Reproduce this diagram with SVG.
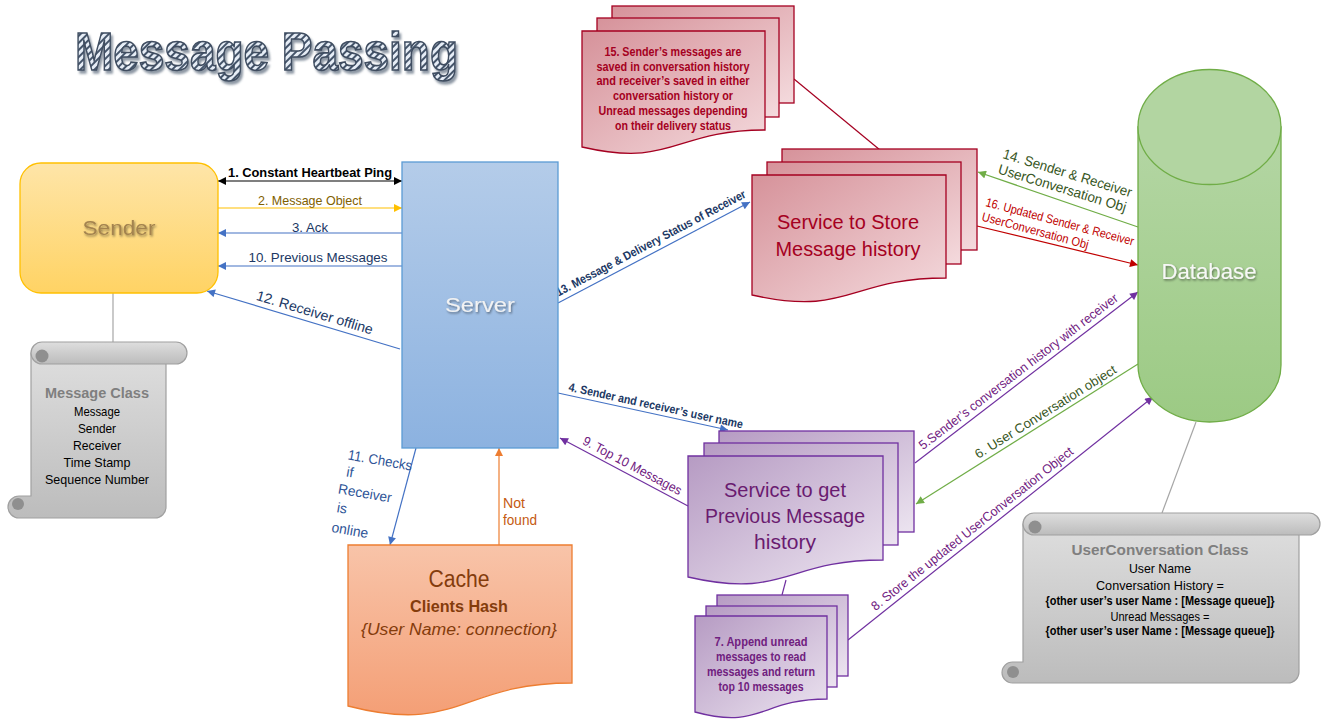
<svg xmlns="http://www.w3.org/2000/svg" width="1327" height="727" viewBox="0 0 1327 727">
<defs>
<style>
text{font-family:'Liberation Sans',Arial,sans-serif}
.ln{fill:none;stroke-width:1.2}
.blue{stroke:#4472c4}.blk{stroke:#000}.yel{stroke:#ffc000}.pur{stroke:#7030a0}.grn{stroke:#70ad47}.red{stroke:#c00000}.org{stroke:#ed7d31}.gry{stroke:#a6a6a6}.dred{stroke:#a50021}
.rdoc{fill:url(#gRed);stroke:#a50021;stroke-width:1.3}
.pdoc{fill:url(#gPur);stroke:#7030a0;stroke-width:1.3}
.scroll{fill:url(#gGry);stroke:#a0a0a0;stroke-width:1.2}
.curl{fill:#8f8f8f}
.tb{fill:#203864;font-size:13px}
.tbb{fill:#203864;font-size:12px;font-weight:bold}
.tp{fill:#70207f;font-size:13px}
.tg{fill:#375623;font-size:13px}
.tr{fill:#c00000;font-size:12.5px}
.cls{fill:#000;font-size:13px;text-anchor:middle}
</style>
<linearGradient id="gRed" x1="0" y1="0" x2="1" y2="1"><stop offset="0" stop-color="#d6929a"/><stop offset="1" stop-color="#f4dadd"/></linearGradient>
<linearGradient id="gPur" x1="0" y1="0" x2="1" y2="1"><stop offset="0" stop-color="#b69bc3"/><stop offset="1" stop-color="#ece4f0"/></linearGradient>
<linearGradient id="gGry" x1="0" y1="0" x2="0" y2="1"><stop offset="0" stop-color="#dedede"/><stop offset="1" stop-color="#bcbcbc"/></linearGradient>
<linearGradient id="gSnd" x1="0" y1="0" x2="0" y2="1"><stop offset="0" stop-color="#fee5a8"/><stop offset="1" stop-color="#ffd364"/></linearGradient>
<linearGradient id="gSrv" x1="0" y1="0" x2="0" y2="1"><stop offset="0" stop-color="#b4cce9"/><stop offset="1" stop-color="#8cb2e0"/></linearGradient>
<linearGradient id="gDb" x1="0" y1="0" x2="0" y2="1"><stop offset="0" stop-color="#b4d6a4"/><stop offset="1" stop-color="#9cca84"/></linearGradient>
<linearGradient id="gCache" x1="0" y1="0" x2="0" y2="1"><stop offset="0" stop-color="#f8c4a9"/><stop offset="1" stop-color="#f49f76"/></linearGradient>
<pattern id="stripes" patternUnits="userSpaceOnUse" width="5" height="5" patternTransform="rotate(45)"><rect width="5" height="5" fill="#e6edf6"/><rect width="2" height="5" fill="#44546a"/></pattern>
<filter id="sh" x="-20%" y="-20%" width="140%" height="160%"><feDropShadow dx="1" dy="1.5" stdDeviation="1" flood-color="#000" flood-opacity="0.45"/></filter>
<filter id="tsh" x="-5%" y="-10%" width="110%" height="130%"><feDropShadow dx="2" dy="3" stdDeviation="1" flood-color="#44546a" flood-opacity="0.6"/></filter>
<marker id="mBlue" viewBox="0 0 10 10" refX="10" refY="5" markerWidth="9" markerHeight="8" markerUnits="userSpaceOnUse" orient="auto"><path d="M0,0L10,5L0,10z" fill="#4472c4"/></marker>
<marker id="mBlk" viewBox="0 0 10 10" refX="10" refY="5" markerWidth="9" markerHeight="8" markerUnits="userSpaceOnUse" orient="auto-start-reverse"><path d="M0,0L10,5L0,10z" fill="#000"/></marker>
<marker id="mYel" viewBox="0 0 10 10" refX="10" refY="5" markerWidth="9" markerHeight="8" markerUnits="userSpaceOnUse" orient="auto"><path d="M0,0L10,5L0,10z" fill="#ffc000"/></marker>
<marker id="mPur" viewBox="0 0 10 10" refX="10" refY="5" markerWidth="9" markerHeight="8" markerUnits="userSpaceOnUse" orient="auto"><path d="M0,0L10,5L0,10z" fill="#7030a0"/></marker>
<marker id="mGrn" viewBox="0 0 10 10" refX="10" refY="5" markerWidth="9" markerHeight="8" markerUnits="userSpaceOnUse" orient="auto"><path d="M0,0L10,5L0,10z" fill="#70ad47"/></marker>
<marker id="mRed" viewBox="0 0 10 10" refX="10" refY="5" markerWidth="9" markerHeight="8" markerUnits="userSpaceOnUse" orient="auto"><path d="M0,0L10,5L0,10z" fill="#c00000"/></marker>
<marker id="mOrg" viewBox="0 0 10 10" refX="10" refY="5" markerWidth="9" markerHeight="8" markerUnits="userSpaceOnUse" orient="auto"><path d="M0,0L10,5L0,10z" fill="#ed7d31"/></marker>
</defs>
<rect width="1327" height="727" fill="#fff"/>

<g id="title" filter="url(#tsh)">
<text x="75" y="70" font-size="53" font-weight="bold" fill="url(#stripes)" stroke="#3f4d61" stroke-width="1.6" textLength="383" lengthAdjust="spacingAndGlyphs">Message Passing</text>
</g>

<g id="connectors">
<line class="ln blk" x1="218" y1="181" x2="402" y2="181" marker-start="url(#mBlk)" marker-end="url(#mBlk)"/>
<line class="ln yel" x1="218" y1="208" x2="402" y2="208" marker-end="url(#mYel)"/>
<line class="ln blue" x1="402" y1="233" x2="218" y2="233" marker-end="url(#mBlue)"/>
<line class="ln blue" x1="402" y1="266" x2="218" y2="266" marker-end="url(#mBlue)"/>
<line class="ln blue" x1="400" y1="349" x2="207" y2="291" marker-end="url(#mBlue)"/>
<line class="ln blue" x1="558" y1="303" x2="750" y2="202" marker-end="url(#mBlue)"/>
<line class="ln blue" x1="558" y1="393" x2="728" y2="430" marker-end="url(#mBlue)"/>
<line class="ln pur" x1="688" y1="506" x2="560" y2="438" marker-end="url(#mPur)"/>
<line class="ln blue" x1="416" y1="448" x2="390" y2="545" marker-end="url(#mBlue)"/>
<line class="ln org" x1="499" y1="545" x2="499" y2="448" marker-end="url(#mOrg)"/>
<line class="ln pur" x1="915" y1="463" x2="1138" y2="292" marker-end="url(#mPur)"/>
<line class="ln grn" x1="1138" y1="364" x2="916" y2="504" marker-end="url(#mGrn)"/>
<line class="ln pur" x1="848" y1="640" x2="1153" y2="397" marker-end="url(#mPur)"/>
<line class="ln grn" x1="1138" y1="227" x2="978" y2="172" marker-end="url(#mGrn)"/>
<line class="ln red" x1="977" y1="226" x2="1138" y2="265" marker-end="url(#mRed)"/>
<line class="ln gry" x1="113" y1="293" x2="113" y2="342"/>
<line class="ln gry" x1="1196" y1="422" x2="1162" y2="513"/>
<line class="ln dred" x1="794" y1="79" x2="880" y2="150"/>
<line class="ln pur" x1="786" y1="580" x2="782" y2="595"/>

<text class="tb" x="310" y="177" text-anchor="middle" font-weight="bold" fill="#000" style="fill:#000" textLength="164" lengthAdjust="spacingAndGlyphs">1. Constant Heartbeat Ping</text>
<text x="310" y="205" text-anchor="middle" font-size="13" fill="#7f6000" textLength="104" lengthAdjust="spacingAndGlyphs">2. Message Object</text>
<text class="tb" x="310" y="232" text-anchor="middle" textLength="36" lengthAdjust="spacingAndGlyphs">3. Ack</text>
<text class="tb" x="318" y="262" text-anchor="middle" textLength="139" lengthAdjust="spacingAndGlyphs">10. Previous Messages</text>
<g transform="translate(312,322) rotate(16.7)"><text class="tb" style="font-size:14px" x="0" y="-5" text-anchor="middle" textLength="121" lengthAdjust="spacingAndGlyphs">12. Receiver offline</text></g>
<g transform="translate(655,251) rotate(-27.9)"><text class="tbb" x="0" y="-5" text-anchor="middle" textLength="213" lengthAdjust="spacingAndGlyphs">13. Message &amp; Delivery Status of Receiver</text></g>
<g transform="translate(654,414) rotate(12.3)"><text class="tbb" x="0" y="-4.5" text-anchor="middle" textLength="178" lengthAdjust="spacingAndGlyphs">4. Sender and receiver’s user name</text></g>
<g transform="translate(628,474) rotate(28)"><text class="tp" x="0" y="-5" text-anchor="middle" textLength="110" lengthAdjust="spacingAndGlyphs">9. Top 10 Messages</text></g>
<g transform="translate(1024,379) rotate(-37.5)"><text class="tp" x="0" y="-5" text-anchor="middle" textLength="247" lengthAdjust="spacingAndGlyphs">5.Sender’s conversation history with receiver</text></g>
<g transform="translate(1050,419) rotate(-32)"><text class="tg" x="0" y="-4" text-anchor="middle" textLength="164" lengthAdjust="spacingAndGlyphs">6. User Conversation object</text></g>
<g transform="translate(978,536) rotate(-38.5)"><text class="tp" x="0" y="-5" text-anchor="middle" textLength="254" lengthAdjust="spacingAndGlyphs">8. Store the updated UserConversation Object</text></g>
<g transform="translate(1002,158) rotate(17)"><text class="tg" style="font-size:14px" x="0" y="0" textLength="134" lengthAdjust="spacingAndGlyphs">14. Sender &amp; Receiver</text><text class="tg" style="font-size:14px" x="0" y="16" textLength="133" lengthAdjust="spacingAndGlyphs">UserConversation Obj</text></g>
<g transform="translate(985,206) rotate(15)"><text class="tr" x="0" y="0" textLength="153" lengthAdjust="spacingAndGlyphs">16. Updated Sender &amp; Receiver</text><text class="tr" x="0" y="15" textLength="110" lengthAdjust="spacingAndGlyphs">UserConversation Obj</text></g>
<g fill="#2f5597" font-size="14" text-anchor="middle">
<text x="380" y="465" transform="rotate(10 380 460)" textLength="65" lengthAdjust="spacingAndGlyphs">11. Checks</text>
<text x="350" y="477" transform="rotate(10 350 472)">if</text>
<text x="365" y="498" transform="rotate(10 365 493)" textLength="54" lengthAdjust="spacingAndGlyphs">Receiver</text>
<text x="342" y="513" transform="rotate(10 342 508)">is</text>
<text x="350" y="535" transform="rotate(10 350 530)" textLength="37" lengthAdjust="spacingAndGlyphs">online</text>
</g>
<text x="503" y="508" font-size="14" fill="#c55a11" textLength="22" lengthAdjust="spacingAndGlyphs">Not</text>
<text x="503" y="525" font-size="14" fill="#c55a11" textLength="34" lengthAdjust="spacingAndGlyphs">found</text>
</g>

<g id="sender">
<rect x="20" y="163" width="198" height="130" rx="21" fill="url(#gSnd)" stroke="#ffc000" stroke-width="1.3"/>
<text x="119" y="235" text-anchor="middle" font-size="20" fill="#a3834f" filter="url(#sh)" textLength="73" lengthAdjust="spacingAndGlyphs">Sender</text>
</g>

<g id="server">
<rect x="402" y="162" width="156" height="286" fill="url(#gSrv)" stroke="#5b9bd5" stroke-width="1.3"/>
<text x="480" y="312" text-anchor="middle" font-size="20" fill="#f2f2f2" filter="url(#sh)" textLength="70" lengthAdjust="spacingAndGlyphs">Server</text>
</g>

<g id="message-class">
<path class="scroll" d="M31,353 H166 V507 A11,11 0 0 1 155,518 H19 A11,11 0 0 1 19,496 H31 Z"/>
<path class="scroll" d="M42,342 H176 A11,11 0 0 1 176,364 H42 A11,11 0 0 1 42,342 Z"/>
<circle class="curl" cx="42" cy="356" r="6.5"/>
<circle class="curl" cx="18" cy="504" r="6"/>
<text x="97" y="398" text-anchor="middle" font-size="14" font-weight="bold" fill="#7f7f7f" textLength="104" lengthAdjust="spacingAndGlyphs">Message Class</text>
<text class="cls" x="97" y="416" textLength="46" lengthAdjust="spacingAndGlyphs">Message</text>
<text class="cls" x="97" y="433" textLength="38" lengthAdjust="spacingAndGlyphs">Sender</text>
<text class="cls" x="97" y="450" textLength="48" lengthAdjust="spacingAndGlyphs">Receiver</text>
<text class="cls" x="97" y="467" textLength="67" lengthAdjust="spacingAndGlyphs">Time Stamp</text>
<text class="cls" x="97" y="484" textLength="104" lengthAdjust="spacingAndGlyphs">Sequence Number</text>
</g>

<g id="note-15">
<rect class="rdoc" x="612" y="6" width="182" height="97"/>
<rect class="rdoc" x="597" y="18" width="182" height="99"/>
<path class="rdoc" d="M582,31 H765 V130 C673.5,130 673.5,168 582,147 Z"/>
<g font-size="12" font-weight="bold" fill="#a50021" text-anchor="middle">
<text x="673" y="56" textLength="137" lengthAdjust="spacingAndGlyphs">15. Sender’s messages are</text>
<text x="673" y="71" textLength="153" lengthAdjust="spacingAndGlyphs">saved in conversation history</text>
<text x="673" y="85" textLength="153" lengthAdjust="spacingAndGlyphs">and receiver’s saved in either</text>
<text x="673" y="100" textLength="120" lengthAdjust="spacingAndGlyphs">conversation history or</text>
<text x="673" y="115" textLength="149" lengthAdjust="spacingAndGlyphs">Unread messages depending</text>
<text x="673" y="130" textLength="116" lengthAdjust="spacingAndGlyphs">on their delivery status</text>
</g>
</g>

<g id="store-service">
<rect class="rdoc" x="782" y="149" width="195" height="101"/>
<rect class="rdoc" x="767" y="162" width="194" height="102"/>
<path class="rdoc" d="M752,175 H946 V278 C849,278 849,317 752,295 Z"/>
<text x="848" y="229" text-anchor="middle" font-size="20" fill="#a50021" textLength="142" lengthAdjust="spacingAndGlyphs">Service to Store</text>
<text x="848" y="256" text-anchor="middle" font-size="20" fill="#a50021" textLength="145" lengthAdjust="spacingAndGlyphs">Message history</text>
</g>

<g id="database">
<path d="M1138,127 V365 A71.5,57 0 0 0 1281,365 V127 Z" fill="url(#gDb)" stroke="#70ad47" stroke-width="1.3"/>
<ellipse cx="1209.5" cy="127" rx="71.5" ry="57.5" fill="#b2d5a1" stroke="#70ad47" stroke-width="1.3"/>
<text x="1209" y="279" text-anchor="middle" font-size="22" fill="#f7f7f7" filter="url(#sh)" textLength="95" lengthAdjust="spacingAndGlyphs">Database</text>
</g>

<g id="prev-service">
<rect class="pdoc" x="719" y="431" width="195" height="101"/>
<rect class="pdoc" x="704" y="443" width="194" height="102"/>
<path class="pdoc" d="M688,456 H883 V560 C785.5,560 785.5,599.5 688,577 Z"/>
<g font-size="20" fill="#6a1b70" text-anchor="middle">
<text x="785" y="497" textLength="122" lengthAdjust="spacingAndGlyphs">Service to get</text>
<text x="785" y="523" textLength="160" lengthAdjust="spacingAndGlyphs">Previous Message</text>
<text x="785" y="549" textLength="62" lengthAdjust="spacingAndGlyphs">history</text>
</g>
</g>

<g id="note-7">
<rect class="pdoc" x="717" y="595" width="131" height="81"/>
<rect class="pdoc" x="706" y="606" width="131" height="81"/>
<path class="pdoc" d="M695,616 H827 V699 C761,699 761,730 695,712 Z"/>
<g font-size="12" font-weight="bold" fill="#70207f" text-anchor="middle">
<text x="761" y="646" textLength="93" lengthAdjust="spacingAndGlyphs">7. Append unread</text>
<text x="761" y="661" textLength="90" lengthAdjust="spacingAndGlyphs">messages to read</text>
<text x="761" y="676" textLength="108" lengthAdjust="spacingAndGlyphs">messages and return</text>
<text x="761" y="691" textLength="85" lengthAdjust="spacingAndGlyphs">top 10 messages</text>
</g>
</g>

<g id="cache">
<path d="M348,545 H572 V683 C460,683 460,735 348,706 Z" fill="url(#gCache)" stroke="#ed7d31" stroke-width="1.3"/>
<text x="459" y="587" text-anchor="middle" font-size="23" fill="#843c0c" textLength="61" lengthAdjust="spacingAndGlyphs">Cache</text>
<text x="459" y="612" text-anchor="middle" font-size="16" font-weight="bold" fill="#843c0c" textLength="98" lengthAdjust="spacingAndGlyphs">Clients Hash</text>
<text x="459" y="635" text-anchor="middle" font-size="16" font-style="italic" fill="#843c0c" textLength="196" lengthAdjust="spacingAndGlyphs">{User Name: connection}</text>
</g>

<g id="userconversation-class">
<path class="scroll" d="M1023,524 H1299 V672 A11,11 0 0 1 1288,683 H1012.5 A10.5,10.5 0 0 1 1012.5,662 H1023 Z"/>
<path class="scroll" d="M1034,513 H1309 A11,11 0 0 1 1309,535 H1034 A11,11 0 0 1 1034,513 Z"/>
<circle class="curl" cx="1035" cy="527" r="6.5"/>
<circle class="curl" cx="1013" cy="672" r="6"/>
<text x="1160" y="555" text-anchor="middle" font-size="15" font-weight="bold" fill="#7f7f7f" textLength="177" lengthAdjust="spacingAndGlyphs">UserConversation Class</text>
<text class="cls" x="1160" y="573" textLength="62" lengthAdjust="spacingAndGlyphs">User Name</text>
<text class="cls" x="1160" y="590" textLength="128" lengthAdjust="spacingAndGlyphs">Conversation History =</text>
<text class="cls" x="1160" y="605" font-size="12" font-weight="bold" style="font-size:12px" textLength="229" lengthAdjust="spacingAndGlyphs">{other user’s user Name : [Message queue]}</text>
<text class="cls" x="1160" y="621" textLength="99" lengthAdjust="spacingAndGlyphs">Unread Messages =</text>
<text class="cls" x="1160" y="635" font-weight="bold" style="font-size:12px" textLength="229" lengthAdjust="spacingAndGlyphs">{other user’s user Name : [Message queue]}</text>
</g>
</svg>
